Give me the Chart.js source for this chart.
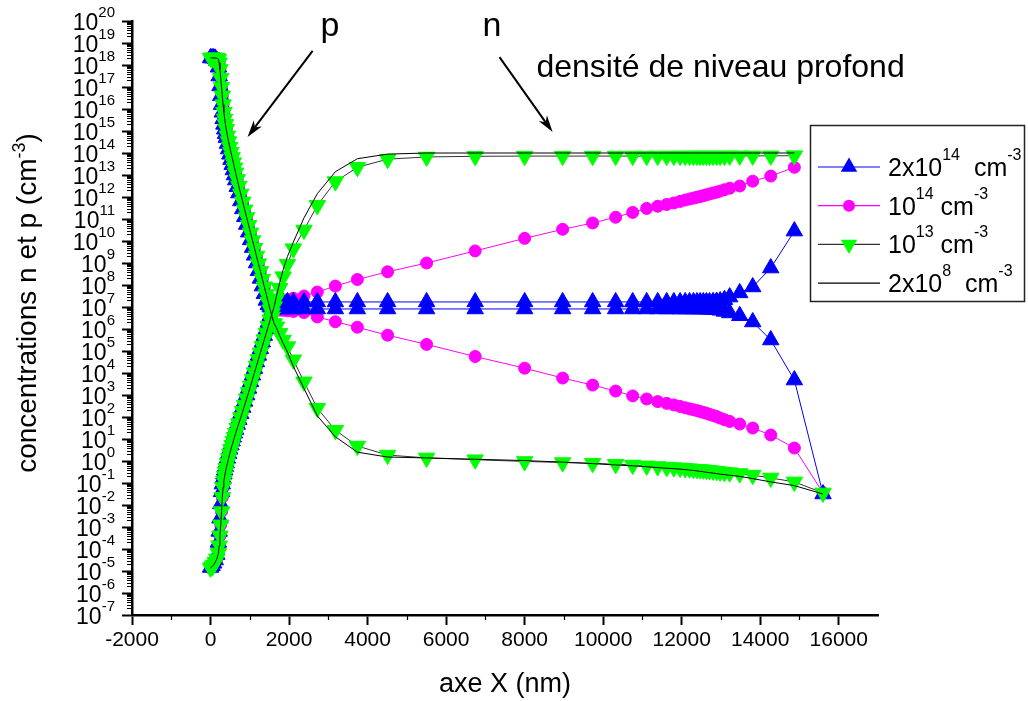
<!DOCTYPE html>
<html>
<head>
<meta charset="utf-8">
<title>Concentrations n et p</title>
<script src="https://cdn.jsdelivr.net/npm/chart.js@4.4.1/dist/chart.umd.min.js"></script>
<style>
  html, body { margin: 0; padding: 0; background: #fff; }
  canvas { display: block; }
</style>
</head>
<body>
<canvas id="concChart" width="1028" height="701"></canvas>
<script>
// mesh positions along the device (nm)
const xNm = [
  0, 40, 80, 120, 160, 200, 220, 240, 260, 280,
  300, 320, 340, 360, 380, 400, 430, 460, 490, 520,
  550, 580, 610, 640, 680, 720, 770, 820, 870, 920,
  970, 1020, 1070, 1120, 1170, 1220, 1270, 1320, 1370, 1420,
  1470, 1520, 1570, 1620, 1680, 1760, 1850, 1960, 2110, 2380,
  2720, 3180, 3740, 4510, 5503, 6740, 8000, 8968, 9732, 10318,
  10752, 11108, 11389, 11618, 11800, 11960, 12090, 12200, 12300, 12390,
  12470, 12550, 12630, 12710, 12800, 12890, 12980, 13090, 13223, 13478,
  13809, 14268, 14870, 15600
];

// all concentrations below are log10(cm^-3), one entry per xNm point

// steep part near the junction, common to the 10^13 and 2x10^8 runs (xNm[0..43])
const nLeft = [
  -4.86, -4.8, -4.72, -4.6, -4.45, -4.2, -3.85, -3.4, -2.9, -2.3,
  -1.65, -1.2, -0.9, -0.68, -0.5, -0.33, -0.1, 0.12, 0.33, 0.53,
  0.72, 0.9, 1.08, 1.26, 1.49, 1.7, 1.98, 2.26, 2.54, 2.83,
  3.12, 3.42, 3.72, 4.02, 4.32, 4.62, 4.92, 5.22, 5.52, 5.82,
  6.12, 6.42, 6.72, 7.02
];
const pLeft = [
  18.32, 18.32, 18.32, 18.32, 18.31, 18.27, 18.1, 17.8, 17.4, 17.0,
  16.6, 16.2, 15.85, 15.55, 15.3, 15.08, 14.78, 14.52, 14.27, 14.03,
  13.8, 13.56, 13.33, 13.1, 12.8, 12.5, 12.14, 11.78, 11.42, 11.07,
  10.72, 10.37, 10.02, 9.67, 9.32, 8.97, 8.62, 8.27, 7.92, 7.57,
  7.22, 6.88, 6.55, 6.25
];

// deep level density 2x10^14 cm^-3
const n2e14 = [
  -4.84, -4.76, -4.65, -4.5, -4.25, -3.7, -3.2, -2.6, -1.95, -1.4,
  -1.05, -0.8, -0.6, -0.42, -0.26, -0.1, 0.12, 0.33, 0.53, 0.72,
  0.9, 1.08, 1.26, 1.43, 1.66, 1.88, 2.15, 2.43, 2.71, 3.0,
  3.3, 3.6, 3.9, 4.2, 4.5, 4.8, 5.1, 5.4, 5.7, 6.0,
  6.3, 6.6, 6.88, 7.05, 7.15, 7.2, 7.22, 7.23, 7.23, 7.23,
  7.23, 7.23, 7.23, 7.23, 7.23, 7.23, 7.23, 7.23, 7.23, 7.23,
  7.23, 7.23, 7.23, 7.23, 7.23, 7.23, 7.23, 7.23, 7.23, 7.23,
  7.23, 7.23, 7.23, 7.23, 7.24, 7.25, 7.27, 7.33, 7.45, 7.64,
  7.91, 8.77, 10.45, null
];
const p2e14 = [
  18.32, 18.32, 18.32, 18.3, 18.2, 17.9, 17.5, 17.05, 16.6, 16.2,
  15.85, 15.55, 15.3, 15.08, 14.88, 14.7, 14.43, 14.18, 13.94, 13.7,
  13.47, 13.23, 13.0, 12.77, 12.47, 12.18, 11.82, 11.46, 11.1, 10.75,
  10.4, 10.05, 9.7, 9.35, 9.0, 8.65, 8.3, 7.95, 7.6, 7.3,
  7.1, 7.0, 6.95, 6.93, 6.92, 6.91, 6.91, 6.91, 6.91, 6.91,
  6.91, 6.91, 6.91, 6.91, 6.91, 6.91, 6.91, 6.91, 6.91, 6.91,
  6.91, 6.91, 6.91, 6.91, 6.91, 6.91, 6.91, 6.91, 6.91, 6.91,
  6.91, 6.91, 6.9, 6.9, 6.89, 6.88, 6.85, 6.8, 6.73, 6.6,
  6.32, 5.5, 3.68, -1.5
];

// deep level density 10^14 cm^-3
const n1e14 = nLeft.slice(0, 43).concat([
  6.95, 7.1, 7.2, 7.27, 7.33, 7.4, 7.5, 7.68, 7.95, 8.25,
  8.6, 9.0, 9.55, 10.12, 10.53, 10.82, 11.08, 11.3, 11.48, 11.58,
  11.66, 11.73, 11.8, 11.86, 11.91, 11.95, 11.99, 12.02, 12.06, 12.1,
  12.14, 12.18, 12.22, 12.27, 12.33, 12.4, 12.5, 12.72, 12.95, 13.35,
  null
]);
const p1e14 = pLeft.slice(0, 41).concat([
  6.95, 6.9, 6.88, 6.87, 6.86, 6.85, 6.83, 6.8, 6.75, 6.55,
  6.33, 6.08, 5.72, 5.3, 4.75, 4.22, 3.77, 3.45, 3.18, 2.96,
  2.82, 2.7, 2.62, 2.55, 2.48, 2.42, 2.37, 2.33, 2.29, 2.25,
  2.21, 2.17, 2.12, 2.07, 2.02, 1.95, 1.88, 1.8, 1.68, 1.5,
  1.18, 0.59, -1.45
]);

// deep level density 10^13 cm^-3
const n1e13 = nLeft.concat([
  7.38, 7.85, 8.38, 8.95, 9.65, 10.5, 11.62, 12.7, 13.35, 13.72,
  13.82, 13.85, 13.86, 13.86, 13.86, 13.86, 13.86, 13.86, 13.86, 13.86,
  13.86, 13.86, 13.86, 13.86, 13.86, 13.86, 13.86, 13.86, 13.86, 13.86,
  13.86, 13.86, 13.86, 13.86, 13.87, 13.87, 13.87, 13.87, 13.88, null
]);
const p1e13 = pLeft.concat([
  6.1, 5.8, 5.5, 5.2, 4.6, 3.6, 2.4, 1.4, 0.68, 0.27,
  0.14, 0.06, -0.02, -0.07, -0.1, -0.15, -0.18, -0.22, -0.25, -0.28,
  -0.3, -0.32, -0.34, -0.35, -0.37, -0.38, -0.39, -0.4, -0.42, -0.43,
  -0.45, -0.47, -0.49, -0.51, -0.53, -0.57, -0.64, -0.77, -0.95, -1.45
]);

// deep level density 2x10^8 cm^-3
const n2e8 = nLeft.concat([
  7.5, 8.1, 8.7, 9.3, 9.95, 11.05, 12.15, 13.15, 13.74, 13.95,
  14.0, 14.0, 14.0, 14.0, 14.0, 14.0, 14.0, 14.0, 14.0, 14.0,
  14.0, 14.0, 14.0, 14.0, 14.0, 14.0, 14.0, 14.0, 14.0, 14.0,
  14.0, 14.0, 14.0, 14.0, 14.0, 14.0, 14.0, 14.0, 14.0, null
]);
const p2e8 = pLeft.concat([
  6.05, 5.7, 5.35, 4.95, 4.3, 3.3, 2.05, 1.1, 0.4, 0.18,
  0.14, 0.08, 0.02, -0.05, -0.12, -0.18, -0.22, -0.26, -0.3, -0.33,
  -0.35, -0.37, -0.39, -0.41, -0.43, -0.45, -0.47, -0.49, -0.51, -0.53,
  -0.55, -0.57, -0.6, -0.62, -0.65, -0.7, -0.8, -0.95, -1.12, -1.5
]);

const xTicks = [-2000, 0, 2000, 4000, 6000, 8000, 10000, 12000, 14000, 16000];
const xMinorTicks = [-1000, 1000, 3000, 5000, 7000, 9000, 11000, 13000, 15000];
const yDecades = [-7, -6, -5, -4, -3, -2, -1, 0, 1, 2, 3, 4, 5, 6, 7, 8, 9, 10,
  11, 12, 13, 14, 15, 16, 17, 18, 19, 20];

const legendRows = [
  { base: '2x10', exp: '14', unit: '  cm', key: 'd2e14' },
  { base: '10', exp: '14', unit: ' cm', key: 'd1e14' },
  { base: '10', exp: '13', unit: ' cm', key: 'd1e13' },
  { base: '2x10', exp: '8', unit: '  cm', key: 'd2e8' }
];

const styles = {
  d2e14: { line: '#0000ff', fill: '#0000ff', marker: 'triangle', rot: 0, r: 9.5, order: 3 },
  d1e14: { line: '#ff00ff', fill: '#ff00ff', marker: 'circle', rot: 0, r: 6, order: 4 },
  d1e13: { line: '#333333', fill: '#00ff00', marker: 'triangle', rot: 180, r: 9.5, order: 2 },
  d2e8: { line: '#000000', fill: '#000000', marker: null, rot: 0, r: 0, order: 1 }
};

const FONT = '"Liberation Sans", Arial, Helvetica, sans-serif';
const fontOf = size => size + 'px ' + FONT;

function toPoints(logValues) {
  const pts = [];
  logValues.forEach((v, i) => {
    if (v !== null) pts.push({ x: xNm[i], y: Math.pow(10, v) });
  });
  return pts;
}

function makeDataset(label, values, key) {
  const s = styles[key];
  return {
    label: label,
    data: toPoints(values),
    order: s.order,
    borderColor: s.line,
    borderWidth: 1,
    tension: 0,
    pointStyle: s.marker || 'circle',
    pointRotation: s.rot,
    pointRadius: s.marker ? s.r : 0,
    pointHoverRadius: s.marker ? s.r : 0,
    pointBackgroundColor: s.fill,
    pointBorderColor: s.fill,
    pointBorderWidth: 1
  };
}

// text with superscript pieces, parts = [{t, sup}]
function richWidth(ctx, parts, size, supSize) {
  let w = 0;
  parts.forEach(p => {
    ctx.font = fontOf(p.sup ? supSize : size);
    w += ctx.measureText(p.t).width;
  });
  return w;
}
function drawRich(ctx, x, y, parts, size, supSize, rise) {
  let cx = x;
  parts.forEach(p => {
    ctx.font = fontOf(p.sup ? supSize : size);
    ctx.fillText(p.t, cx, p.sup ? y - rise : y);
    cx += ctx.measureText(p.t).width;
  });
}

function drawMarker(ctx, s, x, y) {
  ctx.fillStyle = s.fill;
  ctx.beginPath();
  if (s.marker === 'circle') {
    ctx.arc(x, y, s.r, 0, Math.PI * 2);
  } else {
    const d = s.rot === 180 ? -1 : 1;
    ctx.moveTo(x, y - d * s.r);
    ctx.lineTo(x + s.r * 0.866, y + d * s.r * 0.5);
    ctx.lineTo(x - s.r * 0.866, y + d * s.r * 0.5);
    ctx.closePath();
  }
  ctx.fill();
}

function drawArrow(ctx, x1, y1, x2, y2) {
  const a = Math.atan2(y2 - y1, x2 - x1);
  const c = Math.cos(a), s = Math.sin(a);
  ctx.lineWidth = 2;
  ctx.beginPath();
  ctx.moveTo(x1, y1);
  ctx.lineTo(x2 - 12 * c, y2 - 12 * s);
  ctx.stroke();
  ctx.beginPath();
  ctx.moveTo(x2, y2);
  ctx.lineTo(x2 - 17 * c + 5 * s, y2 - 17 * s - 5 * c);
  ctx.lineTo(x2 - 12 * c, y2 - 12 * s);
  ctx.lineTo(x2 - 17 * c - 5 * s, y2 - 17 * s + 5 * c);
  ctx.closePath();
  ctx.fill();
}

// annotation anchors in data units (x in nm, y as log10)
const notes = {
  pLabel: [2800, 19.3],
  nLabel: [6930, 19.3],
  levelLabel: [8300, 17.45],
  pArrow: [[2600, 18.64], [943, 14.73]],
  nArrow: [[7360, 18.36], [8713, 14.95]]
};

const plotDecor = {
  id: 'plotDecor',
  afterDraw(chart) {
    const ctx = chart.ctx;
    const xs = chart.scales.x, ys = chart.scales.y;
    const area = chart.chartArea;
    const px = v => xs.getPixelForValue(v);
    const py = e => ys.getPixelForValue(Math.pow(10, e));

    ctx.save();
    ctx.fillStyle = '#000';
    ctx.strokeStyle = '#000';

    // minor ticks
    ctx.lineWidth = 1.2;
    ctx.beginPath();
    for (let k = yDecades[0]; k < yDecades[yDecades.length - 1]; k++) {
      for (let m = 2; m <= 9; m++) {
        const yy = Math.round(ys.getPixelForValue(m * Math.pow(10, k))) + 0.5;
        ctx.moveTo(area.left - 5, yy);
        ctx.lineTo(area.left, yy);
      }
    }
    xMinorTicks.forEach(v => {
      const xx = Math.round(px(v)) + 0.5;
      ctx.moveTo(xx, area.bottom);
      ctx.lineTo(xx, area.bottom + 5);
    });
    ctx.stroke();

    // y tick labels 10^k
    ctx.textAlign = 'left';
    ctx.textBaseline = 'alphabetic';
    yDecades.forEach(k => {
      const parts = [{ t: '10' }, { t: String(k), sup: true }];
      const w = richWidth(ctx, parts, 23, 15);
      drawRich(ctx, area.left - 17 - w, py(k) + 9, parts, 23, 15, 13);
    });

    // y axis title
    ctx.save();
    ctx.translate(36, 303);
    ctx.rotate(-Math.PI / 2);
    const tParts = [{ t: 'concentrations n et p (cm' }, { t: '-3', sup: true }, { t: ')' }];
    const tw = richWidth(ctx, tParts, 28, 18);
    drawRich(ctx, -tw / 2, 0, tParts, 28, 18, 11);
    ctx.restore();

    // annotations
    ctx.font = fontOf(34);
    ctx.fillText('p', px(notes.pLabel[0]), py(notes.pLabel[1]));
    ctx.fillText('n', px(notes.nLabel[0]), py(notes.nLabel[1]));
    ctx.font = fontOf(32);
    ctx.fillText('densité de niveau profond', px(notes.levelLabel[0]), py(notes.levelLabel[1]));
    [notes.pArrow, notes.nArrow].forEach(([from, to]) => {
      drawArrow(ctx, px(from[0]), py(from[1]), px(to[0]), py(to[1]));
    });

    // legend box
    const lx = 810, ly = 125, lw = 214, lh = 176;
    ctx.fillStyle = '#fff';
    ctx.fillRect(lx, ly, lw, lh);
    ctx.lineWidth = 1.5;
    ctx.strokeStyle = '#222';
    ctx.strokeRect(lx + 0.5, ly + 0.5, lw, lh);
    legendRows.forEach((row, i) => {
      const s = styles[row.key];
      const cy = 167 + i * 38.7;
      ctx.strokeStyle = s.line;
      ctx.lineWidth = 1.2;
      ctx.beginPath();
      ctx.moveTo(818, cy);
      ctx.lineTo(880, cy);
      ctx.stroke();
      if (s.marker) drawMarker(ctx, s, 849, cy);
      ctx.fillStyle = '#000';
      drawRich(ctx, 888, cy + 9, [
        { t: row.base }, { t: row.exp, sup: true },
        { t: row.unit }, { t: '-3', sup: true }
      ], 25, 16, 16);
    });

    ctx.restore();
  }
};

Chart.defaults.font.family = FONT;
Chart.defaults.color = '#000';

new Chart(document.getElementById('concChart'), {
  type: 'line',
  data: {
    datasets: [
      makeDataset('2x10^14 n', n2e14, 'd2e14'),
      makeDataset('2x10^14 p', p2e14, 'd2e14'),
      makeDataset('10^14 n', n1e14, 'd1e14'),
      makeDataset('10^14 p', p1e14, 'd1e14'),
      makeDataset('10^13 n', n1e13, 'd1e13'),
      makeDataset('10^13 p', p1e13, 'd1e13'),
      makeDataset('2x10^8 n', n2e8, 'd2e8'),
      makeDataset('2x10^8 p', p2e8, 'd2e8')
    ]
  },
  options: {
    responsive: false,
    animation: false,
    layout: { padding: { top: 21, right: 150, left: 0, bottom: 0 } },
    plugins: {
      legend: { display: false },
      tooltip: { enabled: false }
    },
    scales: {
      x: {
        type: 'linear',
        min: -2000,
        max: 17000,
        afterBuildTicks: scale => { scale.ticks = xTicks.map(v => ({ value: v })); },
        afterFit: scale => { scale.height = 86; },
        grid: { drawOnChartArea: false, tickLength: 10, tickWidth: 2, tickColor: '#000' },
        border: { color: '#000', width: 2.5 },
        ticks: {
          color: '#000',
          font: { size: 21 },
          padding: 3,
          maxRotation: 0,
          autoSkip: false,
          callback: v => String(v)
        },
        title: {
          display: true,
          text: 'axe X (nm)',
          color: '#000',
          font: { size: 27 },
          padding: { top: 0, bottom: 0 }
        }
      },
      y: {
        type: 'logarithmic',
        min: 1e-7,
        max: 1e20,
        afterBuildTicks: scale => { scale.ticks = yDecades.map(k => ({ value: Math.pow(10, k) })); },
        afterFit: scale => { scale.width = 132; },
        grid: { drawOnChartArea: false, tickLength: 10, tickWidth: 2, tickColor: '#000' },
        border: { color: '#000', width: 2.5 },
        ticks: { display: false }
      }
    }
  },
  plugins: [plotDecor]
});
</script>
</body>
</html>
